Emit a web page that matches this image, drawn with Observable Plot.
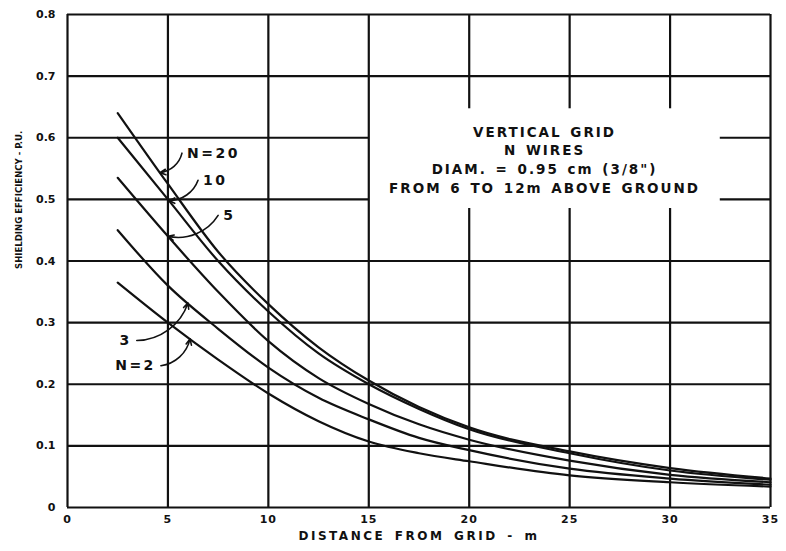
<!DOCTYPE html>
<html>
<head>
<meta charset="utf-8">
<script src="https://cdn.jsdelivr.net/npm/d3@7"></script>
<script src="https://cdn.jsdelivr.net/npm/@observablehq/plot@0.6"></script>
<style>
  html, body { margin: 0; padding: 0; background: #fff; }
</style>
</head>
<body>
<div id="chart"></div>
<script>
// ---- data ----
const distance = [2.5, 5, 7.5, 10, 12.5, 15, 17.5, 20, 25, 30, 35];
const effN20 = [0.640, 0.525, 0.415, 0.330, 0.260, 0.206, 0.163, 0.130, 0.091, 0.064, 0.047];
const effN10 = [0.600, 0.500, 0.400, 0.318, 0.250, 0.200, 0.160, 0.127, 0.088, 0.060, 0.045];
const effN5  = [0.535, 0.440, 0.350, 0.270, 0.210, 0.168, 0.135, 0.110, 0.076, 0.053, 0.041];
const effN3  = [0.450, 0.360, 0.290, 0.227, 0.178, 0.143, 0.113, 0.093, 0.063, 0.047, 0.037];
const effN2  = [0.365, 0.300, 0.240, 0.185, 0.140, 0.107, 0.088, 0.075, 0.052, 0.041, 0.034];
const seriesN = [20, 10, 5, 3, 2];
const seriesEff = [effN20, effN10, effN5, effN3, effN2];

const xTicks = [0, 5, 10, 15, 20, 25, 30, 35];
const yTicks = [0, 0.1, 0.2, 0.3, 0.4, 0.5, 0.6, 0.7, 0.8];

// curve labels: text, label position, anchor, and distance on curve where leader ends
const labelText   = ["N=20", "10", "5", "3", "N=2"];
const labelX      = [5.95, 6.75, 7.75, 3.2, 4.4];
const labelY      = [0.575, 0.531, 0.474, 0.271, 0.230];
const labelAnchor = ["start", "start", "start", "end", "end"];
const leaderX     = [4.6, 5.05, 5.0, 6.0, 6.1];

// note box (gap in the grid) in data units
const noteGap = {x1: 15, x2: 32.5, y1: 0.485, y2: 0.647};
const noteText = "VERTICAL GRID\nN WIRES\nDIAM. = 0.95 cm (3/8\")\nFROM 6 TO 12m ABOVE GROUND";

const xTitle = "DISTANCE FROM GRID - m";
const yTitle = "SHIELDING EFFICIENCY - P.U.";

// ---- derived tables ----
const rows = seriesN.flatMap((n, i) => distance.map((d, j) => ({n, d, e: seriesEff[i][j]})));
const xMax = xTicks[xTicks.length - 1], yMax = yTicks[yTicks.length - 1];
const hSegs = yTicks.flatMap(y => (y > noteGap.y1 && y < noteGap.y2)
  ? [{y, x1: 0, x2: noteGap.x1}, {y, x1: noteGap.x2, x2: xMax}]
  : [{y, x1: 0, x2: xMax}]);
const vSegs = xTicks.flatMap(x => (x > noteGap.x1 && x < noteGap.x2)
  ? [{x, y1: 0, y2: noteGap.y1}, {x, y1: noteGap.y2, y2: yMax}]
  : [{x, y1: 0, y2: yMax}]);

function interp(arr, x) {
  for (let j = 0; j < distance.length - 1; j++) {
    if (x >= distance[j] && x <= distance[j + 1]) {
      const t = (x - distance[j]) / (distance[j + 1] - distance[j]);
      return arr[j] + t * (arr[j + 1] - arr[j]);
    }
  }
  return arr[0];
}
const labels = labelText.map((t, i) => {
  const dir = labelAnchor[i] === "start" ? -1 : 1;
  return {
    t, x: labelX[i], y: labelY[i], anchor: labelAnchor[i],
    lx: labelX[i] + dir * 0.25, ly: labelY[i],
    tx: leaderX[i], ty: interp(seriesEff[i], leaderX[i])
  };
});

const ink = "#111";

const plot = Plot.plot({
  width: 786,
  height: 551,
  marginTop: 14,
  marginRight: 16,
  marginBottom: 44,
  marginLeft: 67,
  style: {fontFamily: "'DejaVu Sans', sans-serif", fontWeight: "bold", fontSize: "11px", background: "#fff", color: ink},
  x: {domain: [0, xMax], ticks: xTicks, tickSize: 0, tickPadding: 8, label: null, tickFormat: d => String(d)},
  y: {domain: [0, yMax], ticks: yTicks, tickSize: 0, tickPadding: 12, label: null, tickFormat: d => d === 0 ? "0" : d.toFixed(1)},
  marks: [
    Plot.ruleY(hSegs, {y: "y", x1: "x1", x2: "x2", stroke: ink, strokeWidth: 2.2}),
    Plot.ruleX(vSegs, {x: "x", y1: "y1", y2: "y2", stroke: ink, strokeWidth: 2.2}),
    Plot.line(rows, {x: "d", y: "e", z: "n", curve: "monotone-x", stroke: ink, strokeWidth: 2.2}),
    Plot.arrow(labels.filter(d => d.anchor === "start"), {x1: "lx", y1: "ly", x2: "tx", y2: "ty", bend: 35, headLength: 6, headAngle: 50, stroke: ink, strokeWidth: 1.6}),
    Plot.arrow(labels.filter(d => d.anchor === "end"), {x1: "lx", y1: "ly", x2: "tx", y2: "ty", bend: -35, headLength: 6, headAngle: 50, stroke: ink, strokeWidth: 1.6}),
    Plot.text(labels.filter(d => d.anchor === "start"), {x: "x", y: "y", text: "t", textAnchor: "start", fontSize: 14, fontWeight: "bold", fill: ink, ariaDescription: "curvelabel"}),
    Plot.text(labels.filter(d => d.anchor === "end"), {x: "x", y: "y", text: "t", textAnchor: "end", fontSize: 14, fontWeight: "bold", fill: ink, ariaDescription: "curvelabel"}),
    Plot.text([noteText], {x: (noteGap.x1 + noteGap.x2) / 2, y: (noteGap.y1 + noteGap.y2) / 2, text: d => d, fontSize: 13.5, lineHeight: 1.38, fontWeight: "bold", fill: ink, ariaDescription: "note"}),
    Plot.text([xTitle], {frameAnchor: "bottom", dy: 32, text: d => d, fontSize: 12, fontWeight: "bold", fill: ink, ariaDescription: "xtitle"}),
    Plot.text([yTitle], {frameAnchor: "left", dx: -49, dy: 8, rotate: -90, text: d => d, fontSize: 9.5, fontWeight: "bold", fontFamily: "'DejaVu Sans Condensed', 'DejaVu Sans', sans-serif", fill: ink, ariaDescription: "ytitle"})
  ]
});

document.getElementById("chart").appendChild(plot);
const svg = d3.select(plot);
svg.selectAll('g[aria-description="note"] text').style("letter-spacing", "2px").style("word-spacing", "2px");
svg.selectAll('g[aria-description="curvelabel"] text').style("letter-spacing", "2.5px");
svg.selectAll('g[aria-description="xtitle"] text').style("letter-spacing", "2.5px").style("word-spacing", "3px");
svg.selectAll('g[aria-label="x-axis tick label"] text').style("letter-spacing", "1px");
</script>
</body>
</html>
